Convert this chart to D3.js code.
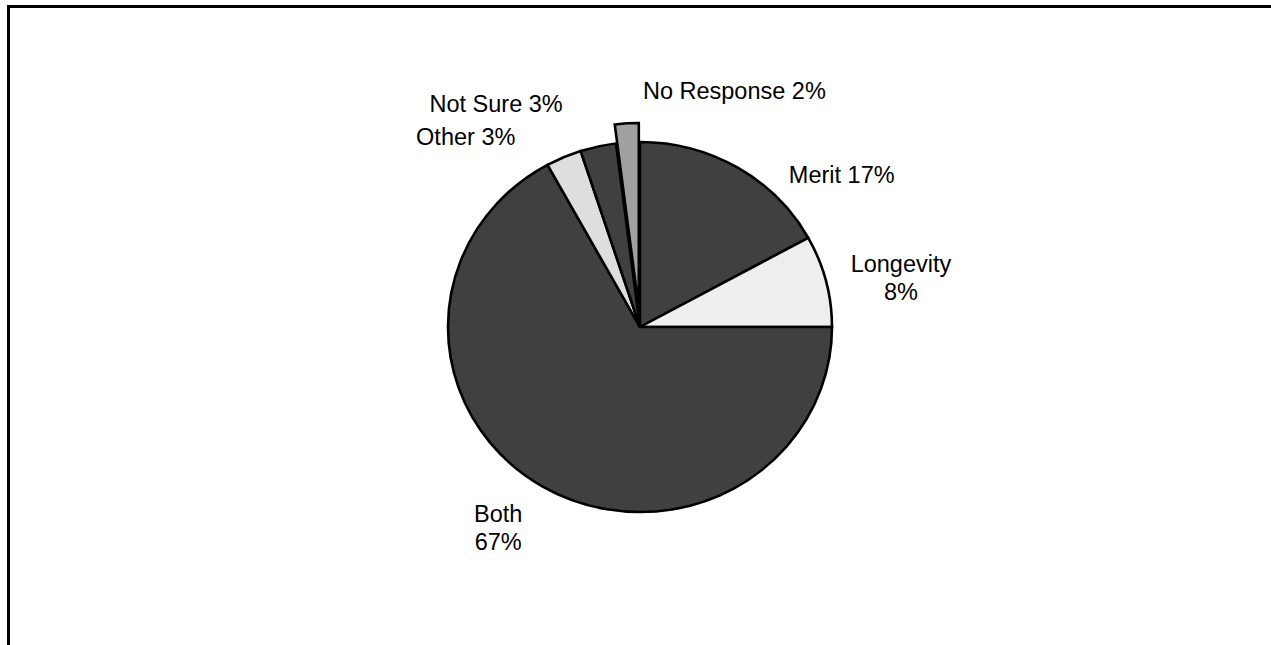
<!DOCTYPE html>
<html>
<head>
<meta charset="utf-8">
<script src="https://cdn.jsdelivr.net/npm/d3@7"></script>
<style>
  html, body { margin: 0; padding: 0; background: #fff; }
  svg { display: block; }
  text { font-family: "Liberation Sans", Arial, sans-serif; fill: #000; }
</style>
</head>
<body>
<svg id="chart" width="1271" height="645"></svg>
<script>
// ---- data ----
const categories = ["Merit", "Longevity", "Both", "Other", "Not Sure", "No Response"];
const values     = [17, 8, 67, 3, 3, 2];
const labelLines = [["Merit 17%"], ["Longevity", "8%"], ["Both", "67%"], ["Other 3%"], ["Not Sure 3%"], ["No Response 2%"]];
const exploded   = [false, false, false, false, false, true];

// ---- styling / layout ----
const fills = ["#404040", "#eeeeee", "#404040", "#dedede", "#404040", "#a0a0a0"];
const W = 1271, H = 645;
const cx = 640, cy = 327, R = 192, yScale = 0.964;
const explodeDist = 19;
// label nudges relative to the outer point at each slice's mid angle
const labelNudge = [
  {dx: 104, dy: 15, anchor: "middle"},
  {dx: 75,  dy: -9, anchor: "middle"},
  {dx: -44, dy: 36, anchor: "middle"},
  {dx: -98, dy: -12, anchor: "middle"},
  {dx: -102, dy: -34, anchor: "middle"},
  {dx: 15,  dy: -43, anchor: "start"}
];
const lineGap = 28;

const svg = d3.select("#chart");

// frame
svg.append("rect")
  .attr("x", 8.5).attr("y", 6.5)
  .attr("width", W + 50).attr("height", H + 50)
  .attr("fill", "none").attr("stroke", "#000").attr("stroke-width", 3);

const data = categories.map((c, i) => ({cat: c, value: values[i], i}));
const pie = d3.pie().value(d => d.value).sort(null).startAngle(0).endAngle(2 * Math.PI);
const arcs = pie(data);
const arc = d3.arc().innerRadius(0).outerRadius(R);

const g = svg.append("g").attr("transform", `translate(${cx},${cy}) scale(1,${yScale})`);

g.selectAll("path")
  .data(arcs)
  .join("path")
  .attr("d", arc)
  .attr("fill", d => fills[d.data.i])
  .attr("stroke", "#000")
  .attr("stroke-width", 2.6)
  .attr("stroke-linejoin", "miter")
  .attr("transform", d => {
    if (!exploded[d.data.i]) return null;
    const a = (d.startAngle + d.endAngle) / 2;
    return `translate(${explodeDist * Math.sin(a)},${-explodeDist * Math.cos(a) / yScale})`;
  });

// labels
const lg = svg.append("g");
arcs.forEach(d => {
  const a = (d.startAngle + d.endAngle) / 2;
  const ox = cx + R * Math.sin(a);
  const oy = cy - R * Math.cos(a) * yScale;
  const n = labelNudge[d.data.i];
  const t = lg.append("text")
    .attr("x", ox + n.dx)
    .attr("y", oy + n.dy)
    .attr("text-anchor", n.anchor)
    .attr("font-size", 23.5);
  labelLines[d.data.i].forEach((line, k) => {
    t.append("tspan")
      .attr("x", ox + n.dx)
      .attr("dy", k === 0 ? 0 : lineGap)
      .text(line);
  });
});
</script>
</body>
</html>
